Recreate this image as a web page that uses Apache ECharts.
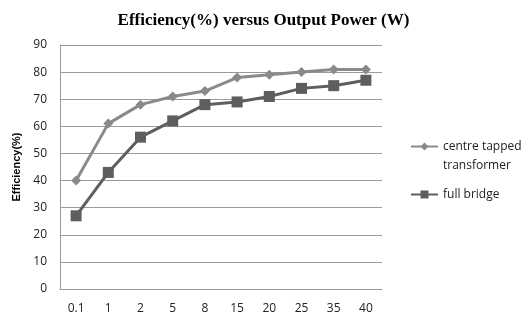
<!DOCTYPE html>
<html><head><meta charset="utf-8">
<script src="https://cdn.jsdelivr.net/npm/echarts@6/dist/echarts.min.js"></script>
<style>html,body{margin:0;padding:0;background:#fff}#c{width:527px;height:321px}</style>
</head><body><div id="c"></div>
<script>
const categories = ['0.1','1','2','5','8','15','20','25','35','40'];
const centreTapped = [40, 61, 68, 71, 73, 78, 79, 80, 81, 81];
const fullBridge = [27, 43, 56, 62, 68, 69, 71, 74, 75, 77];
const seriesNames = ['centre tapped\ntransformer', 'full bridge'];
const titleText = 'Efficiency(%) versus Output Power (W)';
const yName = 'Efficiency(%)';

const chart = echarts.init(document.getElementById('c'), null, {renderer:'canvas'});
chart.setOption({
  animation:false,
  backgroundColor:'#fff',
  title:{text:titleText,left:'center',top:7,textStyle:{fontFamily:'Liberation Serif',fontWeight:'bold',fontSize:17,color:'#000'}},
  grid:{left:60,right:145,top:45,bottom:32,containLabel:false},
  legend:{orient:'vertical',left:405,top:113,itemWidth:27,itemHeight:10,itemGap:10,
    formatter:function(n){return n===seriesNames[0] ? '\n'+n : n;},
    textStyle:{fontFamily:'Open Sans',fontSize:12,color:'#222',lineHeight:19},
    data:seriesNames},
  xAxis:{type:'category',data:categories,boundaryGap:true,
    axisLine:{lineStyle:{color:'#9a9a9a'}},axisTick:{show:false},
    axisLabel:{fontFamily:'Open Sans',fontSize:12,color:'#222',margin:14}},
  yAxis:{type:'value',min:0,max:90,interval:10,name:yName,nameLocation:'middle',nameGap:38,
    nameTextStyle:{fontFamily:'Liberation Sans',fontWeight:'bold',fontSize:11,color:'#000'},
    axisLine:{show:true,lineStyle:{color:'#9a9a9a'}},axisTick:{show:false},
    splitLine:{lineStyle:{color:'#9a9a9a'}},
    axisLabel:{fontFamily:'Open Sans',fontSize:12,color:'#222',margin:13}},
  series:[
    {name:seriesNames[0],type:'line',data:centreTapped,symbol:'diamond',symbolSize:10,
      lineStyle:{color:'#8a8a8a',width:3},itemStyle:{color:'#8a8a8a'}},
    {name:seriesNames[1],type:'line',data:fullBridge,symbol:'rect',symbolSize:11,
      lineStyle:{color:'#5e5e5e',width:3},itemStyle:{color:'#5e5e5e'}}
  ]
});
</script></body></html>
